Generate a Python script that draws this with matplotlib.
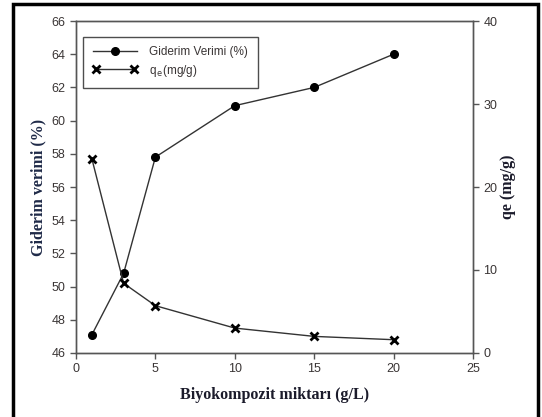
import matplotlib
matplotlib.use("Agg")
import matplotlib.pyplot as plt
from matplotlib.legend_handler import HandlerLine2D
from matplotlib.patches import Rectangle

# data
doses = [1, 3, 5, 10, 15, 20]
removal = [47.1, 50.8, 57.8, 60.9, 62.0, 64.0]
qe = [23.4, 8.4, 5.7, 3.0, 2.0, 1.6]

x_ticks = [0, 5, 10, 15, 20, 25]
left_ticks = [46, 48, 50, 52, 54, 56, 58, 60, 62, 64, 66]
right_ticks = [0, 10, 20, 30, 40]

plt.rcParams["font.family"] = ["Liberation Sans", "DejaVu Sans"]
tick_color = "#3a3535"
spine_color = "#555555"
line_color = "#333333"
label_font = "Liberation Serif"

fig = plt.figure(figsize=(5.42, 4.17), dpi=100)
ax = fig.add_axes([0.1402, 0.1535, 0.7325, 0.7961])
ax2 = ax.twinx()

l1, = ax.plot(doses, removal, color=line_color, lw=1.0, marker="o",
              markersize=5.5, markerfacecolor="black", markeredgecolor="black",
              label="Giderim Verimi (%)")
l2, = ax2.plot(doses, qe, color=line_color, lw=1.0, marker="x",
               markersize=5.5, markeredgewidth=2, markeredgecolor="black",
               label=r"q$_{\,\mathrm{e}}$(mg/g)")

ax.set_xlim(0, 25)
ax.set_ylim(46, 66)
ax2.set_ylim(0, 40)
ax.set_xticks(x_ticks)
ax.set_yticks(left_ticks)
ax2.set_yticks(right_ticks)

for a in (ax, ax2):
    for s in a.spines.values():
        s.set_color(spine_color)
        s.set_linewidth(1.0)
    a.tick_params(colors=spine_color, labelcolor=tick_color, labelsize=9,
                  length=4, width=1.0, direction="out")

ax.set_xlabel("Biyokompozit miktarı (g/L)", family=label_font,
              fontweight="bold", fontsize=11.5, color="#1b1b2b", labelpad=8)
ax.set_ylabel("Giderim verimi (%)", family=label_font,
              fontweight="bold", fontsize=11.5, color="#1f2a48", labelpad=4)
ax2.set_ylabel("qe (mg/g)", family=label_font, fontweight="bold",
               fontsize=11.5, color="#1b1b2b", labelpad=2)

leg = ax.legend(handles=[l1, l2],
                handler_map={l1: HandlerLine2D(numpoints=1),
                             l2: HandlerLine2D(numpoints=2)},
                loc="upper left", bbox_to_anchor=(0.018, 0.952),
                frameon=True, fancybox=False, fontsize=8.5,
                handlelength=3.8, borderpad=0.8, labelspacing=0.35,
                handletextpad=1.0, borderaxespad=0)
leg.get_frame().set_edgecolor("#222222")
leg.get_frame().set_linewidth(1.0)
for t in leg.get_texts():
    t.set_color(tick_color)

# outer page frame (open at the bottom)
fig.add_artist(Rectangle((0.024, -0.05), 0.968, 1.04, transform=fig.transFigure,
                         fill=False, edgecolor="black", linewidth=2.5))

fig.savefig("out.png", dpi=100)
